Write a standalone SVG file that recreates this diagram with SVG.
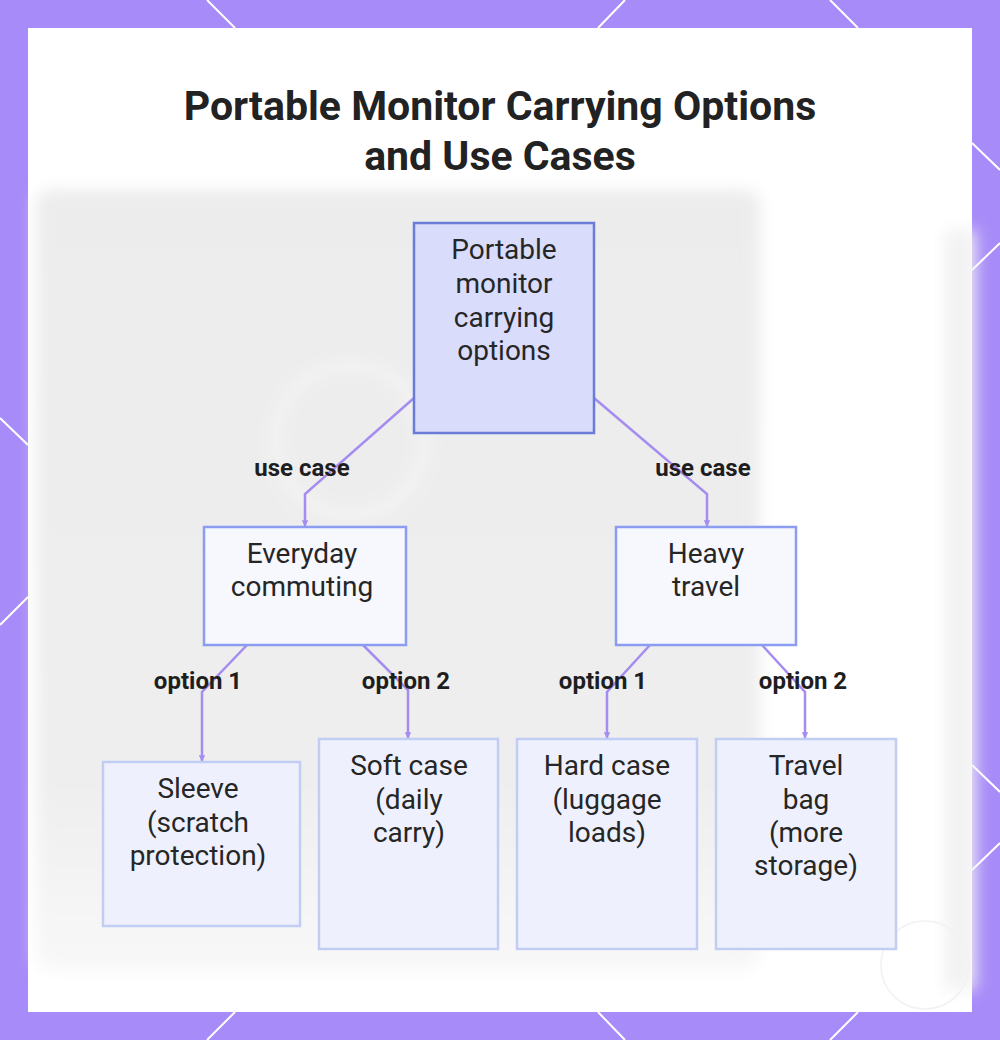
<svg xmlns="http://www.w3.org/2000/svg" width="1000" height="1040" viewBox="0 0 1000 1040">
  <defs>
    <filter id="blur" x="-10%" y="-10%" width="120%" height="120%">
      <feGaussianBlur stdDeviation="8"/>
    </filter>
    <linearGradient id="bgfade" x1="0" y1="0" x2="0" y2="1">
      <stop offset="0" stop-color="#ececec"/>
      <stop offset="0.75" stop-color="#eeeeee"/>
      <stop offset="1" stop-color="#f8f8f8"/>
    </linearGradient>
    <marker id="arr" viewBox="0 0 10 10" refX="9" refY="5" markerWidth="2.6" markerHeight="2.6" orient="auto">
      <path d="M0,0 L10,5 L0,10 z" fill="#a58cf0"/>
    </marker>
    <style>
      .frame-line { stroke: #ffffff; stroke-width: 2; }
      .title { font-family: Roboto, "Liberation Sans", sans-serif; font-weight: 700; font-size: 41px; fill: #222222; text-anchor: middle; }
      .root { fill: #d9dcfb; stroke: #6b7bd8; stroke-width: 2.5; }
      .mid { fill: #f6f8fe; stroke: #8c9cf0; stroke-width: 2.5; }
      .leaf { fill: #eef1fd; stroke: #c2cdf6; stroke-width: 2.5; }
      .ntext { font-family: Roboto, "Liberation Sans", sans-serif; font-size: 28px; fill: #262626; text-anchor: middle; }
      .conn { fill: none; stroke: #a58cf0; stroke-width: 2.5; marker-end: url(#arr); }
      .label { font-family: Roboto, "Liberation Sans", sans-serif; font-weight: 700; font-size: 24px; fill: #1e1e1e; text-anchor: middle; }
    </style>
  </defs>

  <!-- frame -->
  <rect x="0" y="0" width="1000" height="1040" fill="#a78bf8"/>
  <g>
    <line class="frame-line" x1="207" y1="0" x2="235" y2="28"/>
    <line class="frame-line" x1="625" y1="0" x2="598" y2="28"/>
    <line class="frame-line" x1="830" y1="0" x2="858" y2="28"/>
    <line class="frame-line" x1="972" y1="143" x2="1000" y2="170"/>
    <line class="frame-line" x1="972" y1="270" x2="1000" y2="243"/>
    <line class="frame-line" x1="972" y1="765" x2="1000" y2="792"/>
    <line class="frame-line" x1="972" y1="870" x2="1000" y2="843"/>
    <line class="frame-line" x1="0" y1="418" x2="28" y2="445"/>
    <line class="frame-line" x1="0" y1="625" x2="28" y2="597"/>
    <line class="frame-line" x1="235" y1="1012" x2="207" y2="1040"/>
    <line class="frame-line" x1="598" y1="1012" x2="625" y2="1040"/>
    <line class="frame-line" x1="858" y1="1012" x2="830" y2="1040"/>
  </g>
  <rect x="28" y="28" width="944" height="984" fill="#ffffff"/>

  <!-- blurred backdrop -->
  <g filter="url(#blur)">
    <rect x="36" y="190" width="724" height="780" rx="14" fill="url(#bgfade)"/>
    <rect x="945" y="230" width="30" height="760" fill="#f2f2f2"/>
    <circle cx="350" cy="440" r="75" fill="none" stroke="#f5f5f5" stroke-width="10"/>
  </g>
  <circle cx="925" cy="965" r="44" fill="none" stroke="#f2f2f2" stroke-width="1.5"/>

  <!-- title -->
  <text class="title" x="500" y="120">Portable Monitor Carrying Options</text>
  <text class="title" x="500" y="170">and Use Cases</text>

  <!-- connectors -->
  <g id="connectors">
    <path class="conn" d="M414,398 L305,494 L305,526"/>
    <path class="conn" d="M594,398 L707,494 L707,526"/>
    <path class="conn" d="M247,645 L202,692 L202,761"/>
    <path class="conn" d="M363,645 L408,690 L408,738"/>
    <path class="conn" d="M650,645 L607,692 L607,738"/>
    <path class="conn" d="M762,645 L805,692 L805,738"/>
    <text class="label" x="302" y="476">use case</text>
    <text class="label" x="703" y="476">use case</text>
    <text class="label" x="198" y="689">option 1</text>
    <text class="label" x="406" y="689">option 2</text>
    <text class="label" x="603" y="689">option 1</text>
    <text class="label" x="803" y="689">option 2</text>
  </g>

  <!-- nodes -->
  <g id="node-root">
    <rect class="root" x="414" y="223" width="180" height="210"/>
    <text class="ntext" x="504" y="259">Portable</text>
    <text class="ntext" x="504" y="293">monitor</text>
    <text class="ntext" x="504" y="327">carrying</text>
    <text class="ntext" x="504" y="360">options</text>
  </g>
  <g id="node-commuting">
    <rect class="mid" x="204" y="527" width="202" height="118"/>
    <text class="ntext" x="302" y="563">Everyday</text>
    <text class="ntext" x="302" y="596">commuting</text>
  </g>
  <g id="node-travel">
    <rect class="mid" x="616" y="527" width="180" height="118"/>
    <text class="ntext" x="706" y="563">Heavy</text>
    <text class="ntext" x="706" y="596">travel</text>
  </g>
  <g id="node-sleeve">
    <rect class="leaf" x="103" y="762" width="197" height="164"/>
    <text class="ntext" x="198" y="798">Sleeve</text>
    <text class="ntext" x="198" y="832">(scratch</text>
    <text class="ntext" x="198" y="865">protection)</text>
  </g>
  <g id="node-softcase">
    <rect class="leaf" x="319" y="739" width="179" height="210"/>
    <text class="ntext" x="409" y="775">Soft case</text>
    <text class="ntext" x="409" y="809">(daily</text>
    <text class="ntext" x="409" y="842">carry)</text>
  </g>
  <g id="node-hardcase">
    <rect class="leaf" x="517" y="739" width="180" height="210"/>
    <text class="ntext" x="607" y="775">Hard case</text>
    <text class="ntext" x="607" y="809">(luggage</text>
    <text class="ntext" x="607" y="842">loads)</text>
  </g>
  <g id="node-travelbag">
    <rect class="leaf" x="716" y="739" width="180" height="210"/>
    <text class="ntext" x="806" y="775">Travel</text>
    <text class="ntext" x="806" y="809">bag</text>
    <text class="ntext" x="806" y="842">(more</text>
    <text class="ntext" x="806" y="875">storage)</text>
  </g>
</svg>
